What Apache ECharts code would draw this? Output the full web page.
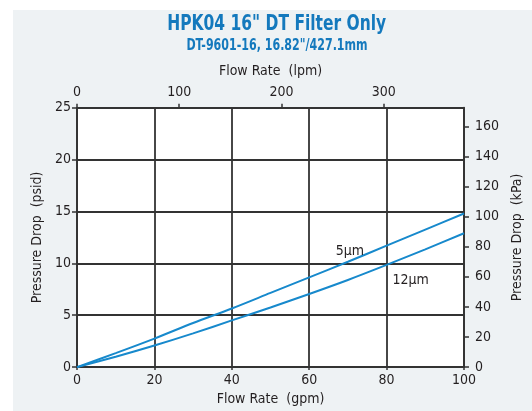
<!DOCTYPE html>
<html><head><meta charset="utf-8">
<script src="https://cdn.jsdelivr.net/npm/echarts@6/dist/echarts.min.js"></script>
<style>html,body{margin:0;padding:0;background:#fff}#c{width:532px;height:411px}</style>
</head><body><div id="c"></div>
<script>
var flowGpm = [0, 10, 20, 30, 40, 50, 60, 70, 80, 90, 100];
var dp5um = [0, 1.35, 2.75, 4.25, 5.65, 7.15, 8.65, 10.15, 11.7, 13.25, 14.8];
var dp12um = [0, 1.0, 2.08, 3.25, 4.5, 5.75, 7.05, 8.4, 9.85, 11.35, 12.9];
var seriesNames = ['5µm', '12µm'];
var titleText = 'HPK04 16" DT Filter Only';
var subtitleText = 'DT-9601-16, 16.82"/427.1mm';

var FONT = "'Liberation Sans Narrow','DejaVu Sans Condensed','Roboto Condensed',sans-serif";
var DARK = '#333333';
var TXT = '#231f20';
var BLUE = '#1789cc';
var TBLUE = '#1479bd';
var GPM_TO_LPM = 3.78541, PSI_TO_KPA = 6.89476;

function pts(ys, labelIdx, label, offset) {
  return flowGpm.map(function (x, i) {
    var d = { value: [x, ys[i]] };
    if (i === labelIdx) d.label = { show: true, formatter: label, offset: offset, position: 'inside',
      color: TXT, fontFamily: FONT, fontSize: 14 };
    return d;
  });
}
var chart = echarts.init(document.getElementById('c'), null, { renderer: 'canvas' });
var lbl = { color: TXT, fontFamily: FONT, fontSize: 14 };
var dl = { onZero: false, lineStyle: { color: DARK, width: 1.8 } };
chart.setOption({
  animation: false,
  backgroundColor: '#ffffff',
  graphic: [
    { type: 'rect', shape: { x: 13, y: 10, width: 519, height: 401 }, style: { fill: '#eef2f4' }, z: -10 },
    { type: 'text', x: 276.7, y: 25, scaleX: 0.82, z: 10,
      style: { text: titleText, textAlign: 'center', textVerticalAlign: 'middle', fill: TBLUE,
        font: "bold 21px " + FONT } },
    { type: 'text', x: 277, y: 46.5, scaleX: 0.82, z: 10,
      style: { text: subtitleText, textAlign: 'center', textVerticalAlign: 'middle', fill: TBLUE,
        font: "bold 15px " + FONT } }
  ],
  grid: { left: 77, right: 65.3, top: 107.7, bottom: 38.3, show: true, backgroundColor: '#ffffff', borderWidth: 0 },
  xAxis: [
    { type: 'value', position: 'bottom', min: 0, max: 100, interval: 20,
      name: 'Flow Rate  (gpm)', nameLocation: 'middle', nameGap: 24, nameTextStyle: lbl,
      axisLine: dl, axisTick: { show: true, length: 3, lineStyle: { color: DARK, width: 1.5 } },
      axisLabel: Object.assign({ margin: 6 }, lbl),
      splitLine: { show: true, lineStyle: { color: DARK, width: 1.8 } } },
    { type: 'value', position: 'top', min: 0, max: 100 * GPM_TO_LPM, interval: 100,
      name: 'Flow Rate  (lpm)', nameLocation: 'middle', nameGap: 29, nameTextStyle: lbl,
      axisLine: dl, axisTick: { show: true, length: 4, lineStyle: { color: DARK, width: 1.5 } },
      axisLabel: Object.assign({ margin: 8, showMaxLabel: false }, lbl),
      splitLine: { show: false } }
  ],
  yAxis: [
    { type: 'value', position: 'left', min: 0, max: 25, interval: 5,
      name: 'Pressure Drop  (psid)', nameLocation: 'middle', nameGap: 33, nameTextStyle: lbl,
      axisLine: dl, axisTick: { show: true, length: 5, lineStyle: { color: DARK, width: 1.5 } },
      axisLabel: Object.assign({ margin: 6 }, lbl),
      splitLine: { show: true, lineStyle: { color: DARK, width: 1.8 } } },
    { type: 'value', position: 'right', min: 0, max: 25 * PSI_TO_KPA, interval: 20,
      name: 'Pressure Drop  (kPa)', nameLocation: 'middle', nameGap: 46, nameTextStyle: lbl,
      axisLine: dl, axisTick: { show: true, length: 5, lineStyle: { color: DARK, width: 1.5 } },
      axisLabel: Object.assign({ margin: 11, showMaxLabel: false }, lbl),
      splitLine: { show: false } }
  ],
  series: [
    { name: seriesNames[0], type: 'line', xAxisIndex: 0, yAxisIndex: 0, smooth: 0.3,
      symbol: 'circle', symbolSize: 0, showSymbol: true, lineStyle: { color: BLUE, width: 2 }, itemStyle: { color: BLUE },
      data: pts(dp5um, 7, seriesNames[0], [2, -10]) },
    { name: seriesNames[1], type: 'line', xAxisIndex: 0, yAxisIndex: 0, smooth: 0.3,
      symbol: 'circle', symbolSize: 0, showSymbol: true, lineStyle: { color: BLUE, width: 2 }, itemStyle: { color: BLUE },
      data: pts(dp12um, 8, seriesNames[1], [24, 15]) }
  ]
});
</script></body></html>
